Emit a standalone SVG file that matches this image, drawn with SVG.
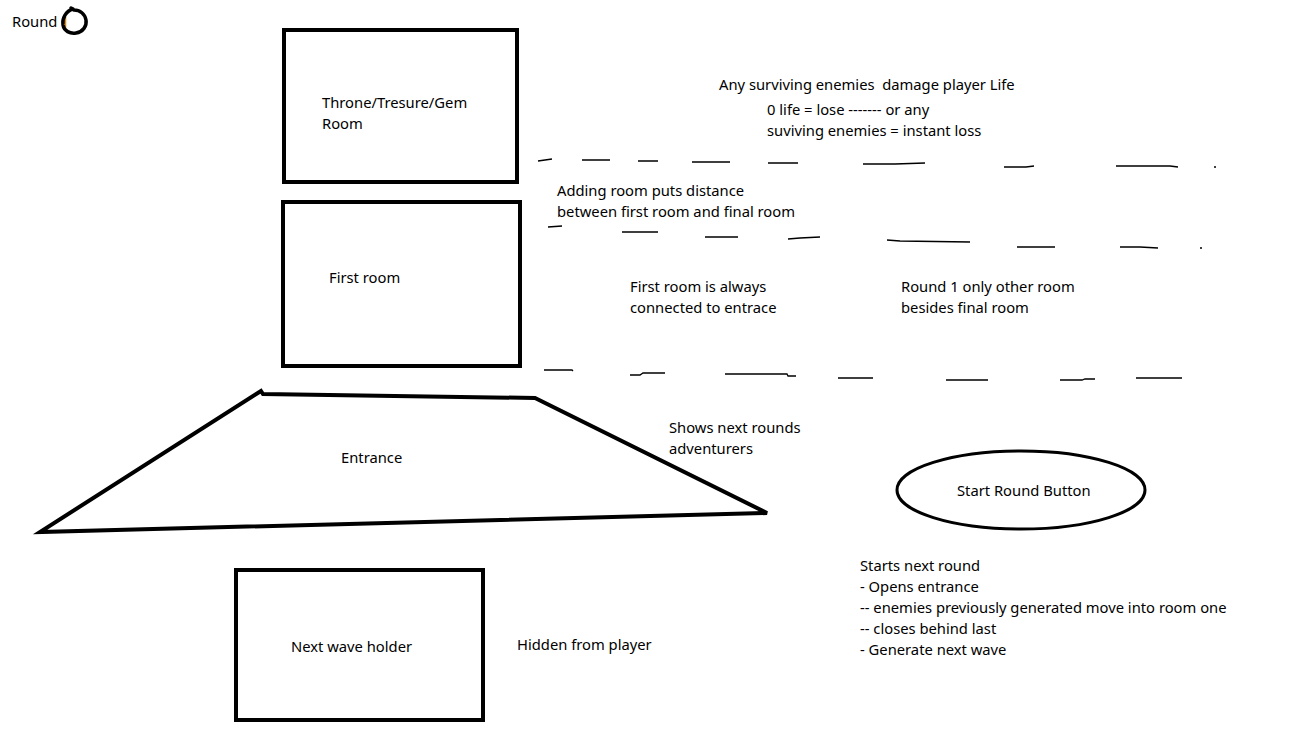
<svg xmlns="http://www.w3.org/2000/svg" width="1309" height="740" viewBox="0 0 1309 740">
<style>
text{font-family:"Noto Sans","Open Sans","DejaVu Sans",sans-serif;font-size:14.75px;fill:#000;white-space:pre}
.box{fill:none;stroke:#000;stroke-width:4;stroke-linejoin:miter}
.dash{fill:none;stroke:#000;stroke-width:1.3;stroke-linecap:butt}
</style>
<rect width="1309" height="740" fill="#fff"/>
<g id="round">
<text x="12" y="27">Round</text>
<line x1="65.5" y1="17" x2="65.5" y2="30" stroke="#e08a00" stroke-width="1.5"/>
<path d="M73,9 C66,11 62,18 63,25 C64,31 70,34 76,33 C83,32 87,26 86,20 C85,14 80,10 74,10 L71,8" fill="none" stroke="#000" stroke-width="3.5" stroke-linecap="round"/>
</g>
<g id="throne">
<rect class="box" x="284" y="30" width="233" height="152"/>
<text x="322" y="108">Throne/Tresure/Gem</text>
<text x="322" y="129">Room</text>
</g>
<g id="first-room">
<rect class="box" x="283" y="202" width="237" height="164"/>
<text x="329" y="283">First room</text>
</g>
<g id="entrance">
<path class="box" d="M261,391 L263,394 L535,398 L767,513 L40,532 Z" stroke-width="4.5" stroke-linejoin="round"/>
<text x="341" y="463">Entrance</text>
</g>
<g id="next-wave">
<rect class="box" x="236" y="570" width="247" height="150"/>
<text x="291" y="652">Next wave holder</text>
</g>
<g id="start-button">
<ellipse cx="1021" cy="490" rx="124" ry="39" fill="none" stroke="#000" stroke-width="3"/>
<text x="957" y="496">Start Round Button</text>
</g>
<g id="notes">
<text x="719" y="90">Any surviving enemies  damage player Life</text>
<text x="767" y="115">0 life = lose ------- or any</text>
<text x="767" y="136">suviving enemies = instant loss</text>
<text x="557" y="196">Adding room puts distance</text>
<text x="557" y="217">between first room and final room</text>
<text x="630" y="292">First room is always</text>
<text x="630" y="313">connected to entrace</text>
<text x="901" y="292">Round 1 only other room</text>
<text x="901" y="313">besides final room</text>
<text x="669" y="433">Shows next rounds</text>
<text x="669" y="454">adventurers</text>
<text x="860" y="571">Starts next round</text>
<text x="860" y="592">- Opens entrance</text>
<text x="860" y="613">-- enemies previously generated move into room one</text>
<text x="860" y="634">-- closes behind last</text>
<text x="860" y="655">- Generate next wave</text>
<text x="517" y="650">Hidden from player</text>
</g>
<g id="connectors">
<path class="dash" d="M538,161 L552,159 M582,160 L610,160 M638,161 L658,161 M692,162 L730,162 M768,163 L798,163 M863,164 L895,164 L925,163 M1004,167 L1026,167 L1034,166 M1116,166 L1170,166 L1178,167 M1214,167 L1216,167"/>
<path class="dash" d="M548,227 L562,226 M622,232 L658,232 M705,237 L738,237 M788,239 L800,238 L820,237 M887,240 L900,241 L970,242 M1017,247 L1055,247 M1120,247 L1140,247 L1158,248 M1200,248 L1202,248"/>
<path class="dash" d="M544,370 L572,370 L573,371 M630,375 L640,375 L643,373 L665,373 M725,374 L787,374 L788,376 L796,376 M838,378 L873,378 M946,380 L988,380 M1060,380 L1082,380 L1085,379 L1095,379 M1136,378 L1182,378"/>
</g>
</svg>
